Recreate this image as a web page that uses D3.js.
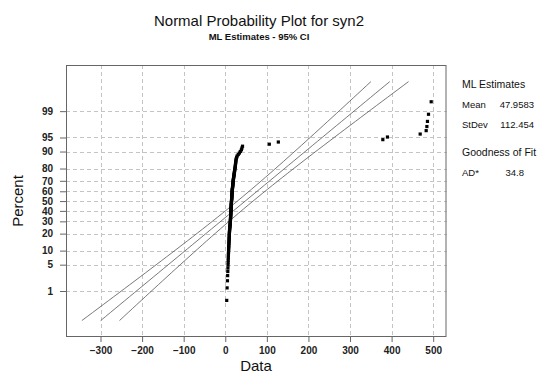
<!DOCTYPE html>
<html><head><meta charset="utf-8">
<script src="https://cdn.jsdelivr.net/npm/d3@7"></script>
<style>
body{margin:0;background:#fff}
text{font-family:Arial,"Liberation Sans",sans-serif}
</style>
</head><body>
<svg id="c" width="543" height="374"></svg>
<script>
// ---- data ----
const percentTicks = [1, 5, 10, 20, 30, 40, 50, 60, 70, 80, 90, 95, 99];
const xTicks = [-300, -200, -100, 0, 100, 200, 300, 400, 500];
// sorted observations of syn2 (estimated from the plotted points)
const syn2Values = [
  3.5, 4.4, 5.2, 5.7, 6.1, 6.4, 6.7, 6.9, 7.1, 7.3,
  7.5, 7.6, 7.8, 8.0, 8.1, 8.3, 8.5, 8.6, 8.8, 8.9,
  9.1, 9.2, 9.3, 9.5, 9.6, 9.7, 9.8, 9.9, 10.0, 10.2,
  10.3, 10.4, 10.6, 10.8, 11.1, 11.3, 11.5, 11.7, 11.9, 12.1,
  12.2, 12.3, 12.4, 12.5, 12.6, 12.7, 12.8, 12.9, 13.0, 13.1,
  13.2, 13.3, 13.3, 13.4, 13.5, 13.6, 13.8, 13.9, 14.0, 14.1,
  14.2, 14.3, 14.4, 14.5, 14.6, 14.7, 14.8, 14.9, 15.0, 15.1,
  15.2, 15.4, 15.5, 15.6, 15.7, 15.8, 15.9, 16.0, 16.2, 16.3,
  16.4, 16.5, 16.6, 16.7, 16.9, 17.1, 17.3, 17.5, 17.7, 17.9,
  18.1, 18.2, 18.4, 18.6, 18.8, 19.0, 19.2, 19.4, 19.7, 20.0,
  20.3, 20.6, 20.9, 21.2, 21.5, 21.8, 22.1, 22.5, 22.8, 23.2,
  23.6, 24.0, 24.2, 24.5, 24.8, 25.1, 25.5, 25.8, 26.5, 27.4,
  28.6, 31.2, 33.9, 36.2, 38.8, 40.0, 41.5,
  105.9, 127.6, 378.9, 390.0, 468.7, 483.1, 484.8, 486.2, 488.7, 495.2
];
const mlMean = 47.9583;
const mlStDev = 112.454;
const adStar = 34.8;
const ciLevel = 0.95;
const linePercentRange = [0.1, 99.9];

// ---- helpers ----
function probit(p) {
  const a = [-3.969683028665376e+01, 2.209460984245205e+02, -2.759285104469687e+02, 1.383577518672690e+02, -3.066479806614716e+01, 2.506628277459239e+00];
  const b = [-5.447609879822406e+01, 1.615858368580409e+02, -1.556989798598866e+02, 6.680131188771972e+01, -1.328068155288572e+01];
  const c = [-7.784894002430293e-03, -3.223964580411365e-01, -2.400758277161838e+00, -2.549732539343734e+00, 4.374664141464968e+00, 2.938163982698783e+00];
  const d = [7.784695709041462e-03, 3.224671290700398e-01, 2.445134137142996e+00, 3.754408661907416e+00];
  const pl = 0.02425;
  let q, r;
  if (p < pl) {
    q = Math.sqrt(-2 * Math.log(p));
    return (((((c[0]*q+c[1])*q+c[2])*q+c[3])*q+c[4])*q+c[5]) / ((((d[0]*q+d[1])*q+d[2])*q+d[3])*q+1);
  } else if (p <= 1 - pl) {
    q = p - 0.5; r = q*q;
    return (((((a[0]*r+a[1])*r+a[2])*r+a[3])*r+a[4])*r+a[5])*q / (((((b[0]*r+b[1])*r+b[2])*r+b[3])*r+b[4])*r+1);
  } else {
    q = Math.sqrt(-2 * Math.log(1 - p));
    return -(((((c[0]*q+c[1])*q+c[2])*q+c[3])*q+c[4])*q+c[5]) / ((((d[0]*q+d[1])*q+d[2])*q+d[3])*q+1);
  }
}

const svg = d3.select("#c");
const box = {l: 66, t: 65, r: 446.5, b: 336};

const x = d3.scaleLinear().domain([-383, 532]).range([box.l, box.r]);
const yz = d3.scaleLinear().domain([-3.49, 3.52]).range([box.b, box.t]);

// grid
const grid = svg.append("g").attr("stroke", "#c4c4c4").attr("stroke-width", 1).attr("stroke-dasharray", "4,3");
xTicks.forEach(v => {
  grid.append("line").attr("x1", Math.round(x(v))+0.5).attr("x2", Math.round(x(v))+0.5)
    .attr("y1", box.t).attr("y2", box.b);
});
percentTicks.forEach(p => {
  const yy = Math.round(yz(probit(p/100))) + 0.5;
  grid.append("line").attr("x1", box.l).attr("x2", box.r).attr("y1", yy).attr("y2", yy);
});

// axes
const yAxis = d3.axisLeft(yz)
  .tickValues(percentTicks.map(p => probit(p/100)))
  .tickFormat((d, i) => percentTicks[i])
  .tickSize(6).tickSizeOuter(0).tickPadding(7);
const gy = svg.append("g").attr("transform", `translate(${box.l},0)`).call(yAxis);
gy.select(".domain").remove();
gy.selectAll("line").attr("stroke", "#666");
gy.selectAll("text").attr("font-size", 10).attr("font-weight", "bold").attr("fill", "#222");

const xAxis = d3.axisBottom(x).tickValues(xTicks).tickSize(6).tickSizeOuter(0).tickPadding(5);
const gx = svg.append("g").attr("transform", `translate(0,${box.b})`).call(xAxis);
gx.select(".domain").remove();
gx.selectAll("line").attr("stroke", "#666");
gx.selectAll("text").attr("font-size", 10).attr("font-weight", "bold").attr("fill", "#222");

// frame
svg.append("rect").attr("x", box.l + 0.5).attr("y", box.t + 0.5)
  .attr("width", box.r - box.l - 1).attr("height", box.b - box.t)
  .attr("fill", "none").attr("stroke", "#666").attr("stroke-width", 1);

// fitted line and CI
const n = syn2Values.length;
const zc = probit(1 - (1 - ciLevel) / 2);
const z0 = probit(linePercentRange[0]/100), z1 = probit(linePercentRange[1]/100);
const zs = d3.range(0, 61).map(i => z0 + (z1 - z0) * i / 60);
const hw = z => zc * mlStDev * Math.sqrt((1 + z*z/2) / n);
const line = d3.line().x(d => x(d[0])).y(d => yz(d[1]));
const lg = svg.append("g").attr("fill", "none").attr("stroke", "#555").attr("stroke-width", 0.8);
lg.append("path").attr("d", line(zs.map(z => [mlMean + z*mlStDev, z])));
lg.append("path").attr("d", line(zs.map(z => [mlMean + z*mlStDev - hw(z), z])));
lg.append("path").attr("d", line(zs.map(z => [mlMean + z*mlStDev + hw(z), z])));

// points (median ranks)
const pts = syn2Values.slice().sort((a, b) => a - b).map((v, i) => [v, probit((i + 1 - 0.3) / (n + 0.4))]);
svg.append("g").selectAll("rect").data(pts).join("rect")
  .attr("x", d => x(d[0]) - 1.6).attr("y", d => yz(d[1]) - 1.6)
  .attr("width", 3.2).attr("height", 3.2).attr("fill", "#000");

// titles
svg.append("text").attr("x", 259).attr("y", 26).attr("text-anchor", "middle")
  .attr("font-size", 15).attr("fill", "#111").text("Normal Probability Plot for syn2");
svg.append("text").attr("x", 259).attr("y", 40).attr("text-anchor", "middle")
  .attr("font-size", 9.5).attr("font-weight", "bold").attr("fill", "#111").text("ML Estimates - 95% CI");
svg.append("text").attr("x", 256).attr("y", 371).attr("text-anchor", "middle")
  .attr("font-size", 15).attr("fill", "#111").text("Data");
svg.append("text").attr("transform", "translate(23,201) rotate(-90)").attr("text-anchor", "middle")
  .attr("font-size", 15).attr("fill", "#111").text("Percent");

// right panel
const rp = svg.append("g").attr("fill", "#111");
rp.append("text").attr("x", 462).attr("y", 88).attr("font-size", 10.5).text("ML Estimates");
rp.append("text").attr("x", 462).attr("y", 108).attr("font-size", 9.5).text("Mean");
rp.append("text").attr("x", 534).attr("y", 108).attr("font-size", 9.5).attr("text-anchor", "end").text(mlMean.toString());
rp.append("text").attr("x", 462).attr("y", 128).attr("font-size", 9.5).text("StDev");
rp.append("text").attr("x", 534).attr("y", 128).attr("font-size", 9.5).attr("text-anchor", "end").text(mlStDev.toString());
rp.append("text").attr("x", 462).attr("y", 156).attr("font-size", 10.5).text("Goodness of Fit");
rp.append("text").attr("x", 462).attr("y", 176).attr("font-size", 9.5).text("AD*");
rp.append("text").attr("x", 524).attr("y", 176).attr("font-size", 9.5).attr("text-anchor", "end").text(adStar.toString());
</script>
</body></html>
